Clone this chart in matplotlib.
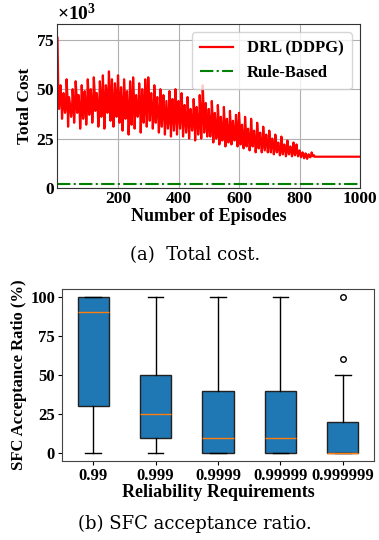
import matplotlib.pyplot as plt
import numpy as np
from matplotlib.ticker import ScalarFormatter

# total cost (x10^3): peaks at ep 0,10,20,... and dips at ep 5,15,25,...
hi = [76, 52, 48, 55, 44, 50, 54, 47, 52, 49,
      55, 50, 56, 48, 54, 57, 52, 59, 55, 53,
      57, 51, 55, 49, 54, 56, 47, 53, 50, 55,
      56, 48, 52, 46, 50, 47, 44, 49, 45, 50,
      44, 48, 42, 46, 40, 45, 41, 47, 52, 43,
      40, 44, 38, 42, 36, 41, 35, 39, 34, 37,
      38, 32, 36, 30, 35, 29, 33, 28, 31, 27,
      29, 25, 27, 23, 26, 22, 24, 21, 23, 22,
      19, 18, 17.5, 17, 18]
lo = [40, 35, 38, 31, 36, 33, 38, 30, 35, 32,
      37, 33, 39, 31, 36, 30, 38, 34, 31, 36,
      33, 29, 35, 27, 32, 30, 36, 28, 33, 31,
      34, 30, 33, 28, 31, 27, 30, 26, 29, 27,
      30, 26, 28, 25, 29, 24, 27, 25, 28, 26,
      26, 23, 25, 22, 24, 21, 23, 22, 24, 21,
      22, 20, 21, 19, 21, 18, 20, 18, 19, 18,
      18, 17, 18, 16.5, 17, 16, 17, 16, 16.5, 16,
      15.5, 15, 14.7, 15.5, 16]
# mid values between each peak and dip
mid = [45, 44, 41, 46, 40, 42, 47, 39, 43, 41,
       46, 42, 48, 40, 45, 43, 47, 46, 42, 45,
       44, 40, 46, 38, 43, 45, 40, 42, 41, 44,
       45, 38, 43, 36, 40, 37, 35, 39, 36, 40,
       36, 38, 34, 35, 33, 36, 32, 37, 40, 33,
       32, 35, 30, 33, 29, 31, 28, 30, 28, 29,
       30, 25, 28, 24, 27, 23, 26, 22, 24, 22,
       23, 21, 22, 19, 21, 19, 20, 18, 19, 18,
       17, 16.5, 16, 16, 16.5]
converged = 15.8
rule_based = 2.2

reliability = ["0.99", "0.999", "0.9999", "0.99999", "0.999999"]
whislo = [0, 0, 0, 0, 0]
q1 = [30, 10, 0, 0, 0]
med = [90, 25, 10, 10, 0]
q3 = [100, 50, 40, 40, 20]
whishi = [100, 100, 100, 100, 50]
fliers = [[], [], [], [], [60, 100]]

ep = []
cost = []
for i in range(len(hi)):
    ep += [10 * i, 10 * i + 3, 10 * i + 5, 10 * i + 8]
    cost += [hi[i], mid[i], lo[i], mid[i]]
ep += [850, 1000]
cost += [converged, converged]
ep = np.array(ep)
cost = np.array(cost) * 1e3

plt.rcParams['font.family'] = 'Liberation Serif'
plt.rcParams['font.weight'] = 'bold'
plt.rcParams['axes.labelweight'] = 'bold'
plt.rcParams['mathtext.fontset'] = 'custom'
plt.rcParams['mathtext.rm'] = 'Liberation Serif:bold'
plt.rcParams['mathtext.bf'] = 'Liberation Serif:bold'

fig = plt.figure(figsize=(3.79, 5.40), dpi=100)

ax1 = fig.add_axes([0.1517, 0.652, 0.7983, 0.3036])
ax1.plot(ep, cost, color="red", lw=1.6, label="DRL (DDPG)")
ax1.plot([0, 1000], [rule_based * 1e3] * 2, color="green", ls="-.", lw=1.5, label="Rule-Based")
ax1.set_xlim(0, 1000)
ax1.set_ylim(0, 83e3)
ax1.set_xticks([200, 400, 600, 800, 1000])
ax1.set_yticks([0, 25e3, 50e3, 75e3])
fmt = ScalarFormatter(useMathText=True)
fmt.set_powerlimits((3, 3))
ax1.yaxis.set_major_formatter(fmt)
ax1.yaxis.get_offset_text().set_fontsize(14)
ax1.grid(True, color="#b0b0b0", lw=0.8)
ax1.tick_params(labelsize=12.5, length=0, pad=2)
ax1.set_xlabel("Number of Episodes", fontsize=13, labelpad=1)
ax1.set_ylabel("Total Cost", fontsize=12.5, labelpad=2)
ax1.legend(loc="upper right", fontsize=12, framealpha=0.8, borderpad=0.5)
for s in ax1.spines.values():
    s.set_color("#333333")
fig.text(0.516, 0.528, "(a)  Total cost.", ha="center", va="center",
         fontsize=13, fontweight="normal", family="DejaVu Serif")

ax2 = fig.add_axes([0.1636, 0.1463, 0.8234, 0.3185])
stats = []
for i in range(len(reliability)):
    stats.append(dict(whislo=whislo[i], q1=q1[i], med=med[i], q3=q3[i],
                      whishi=whishi[i], fliers=fliers[i], label=reliability[i]))
ax2.bxp(stats, patch_artist=True, widths=0.5,
        boxprops=dict(facecolor="#1f77b4", edgecolor="#222222"),
        medianprops=dict(color="#ff7f0e"),
        flierprops=dict(marker="o", markersize=4, markerfacecolor="white"))
ax2.set_ylim(-5, 105)
ax2.set_yticks([0, 25, 50, 75, 100])
ax2.tick_params(labelsize=12, pad=2, length=3)
ax2.set_xlabel("Reliability Requirements", fontsize=13, labelpad=0)
ax2.set_ylabel("SFC Acceptance Ratio (%)", fontsize=12, labelpad=2)
for s in ax2.spines.values():
    s.set_color("#444444")
fig.text(0.515, 0.03, "(b) SFC acceptance ratio.", ha="center", va="center",
         fontsize=13, fontweight="normal", family="DejaVu Serif")

fig.savefig("out.png", dpi=100)
